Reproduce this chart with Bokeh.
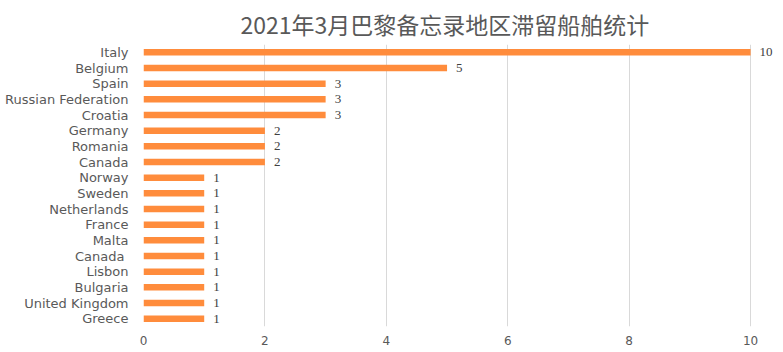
from bokeh.plotting import figure
from bokeh.models import ColumnDataSource, FactorRange, LabelSet, FixedTicker, Range1d
from bokeh.embed import file_html
from bokeh.resources import INLINE

countries = ["Italy", "Belgium", "Spain", "Russian Federation", "Croatia", "Germany",
             "Romania", "Canada", "Norway", "Sweden", "Netherlands", "France", "Malta",
             "Canada ", "Lisbon", "Bulgaria", "United Kingdom", "Greece"]
counts = [10, 5, 3, 3, 3, 2, 2, 2, 1, 1, 1, 1, 1, 1, 1, 1, 1, 1]
x_ticks = [0, 2, 4, 6, 8, 10]
title_text = "2021年3月巴黎备忘录地区滞留船舶统计"

src = ColumnDataSource(dict(country=countries, count=counts,
                            label=[str(c) for c in counts]))

p = figure(width=783, height=352, output_backend="svg", toolbar_location=None,
           y_range=FactorRange(factors=list(reversed(countries)), range_padding=0),
           x_range=Range1d(0, 10.41), title=title_text,
           min_border_left=143, min_border_right=8, min_border_top=44,
           min_border_bottom=26)
p.title.align = "left"
p.title.text_font = "Noto Sans CJK SC"
p.title.text_font_size = "23px"
p.title.text_font_style = "normal"
p.title.text_color = "#595959"
p.title.offset = 97
p.title.standoff = 8

p.hbar(y="country", right="count", left=0, height=0.42, source=src,
       fill_color="#FF8C3C", line_color=None)

labels = LabelSet(x="count", y="country", text="label", source=src,
                  x_offset=9, y_offset=0, text_baseline="middle",
                  text_font="DejaVu Sans", text_font_size="13px", text_color="#404040")
p.add_layout(labels)

p.outline_line_color = None
p.background_fill_color = "white"
p.border_fill_color = "white"
p.ygrid.grid_line_color = None
p.xgrid.grid_line_color = "#D9D9D9"
p.xgrid.grid_line_width = 1
p.xaxis.ticker = FixedTicker(ticks=x_ticks)
p.xaxis.axis_line_color = None
p.xaxis.major_tick_line_color = None
p.xaxis.minor_tick_line_color = None
p.xaxis.major_label_standoff = 3
p.xaxis.major_label_text_font = "DejaVu Sans"
p.xaxis.major_label_text_font_size = "12px"
p.xaxis.major_label_text_color = "#595959"
p.yaxis.axis_line_color = None
p.yaxis.major_tick_line_color = None
p.yaxis.minor_tick_line_color = None
p.yaxis.major_label_standoff = 9
p.yaxis.major_label_text_font = "DejaVu Sans"
p.yaxis.major_label_text_font_size = "13px"
p.yaxis.major_label_text_color = "#595959"

open("out.html", "w").write(file_html(p, INLINE))
